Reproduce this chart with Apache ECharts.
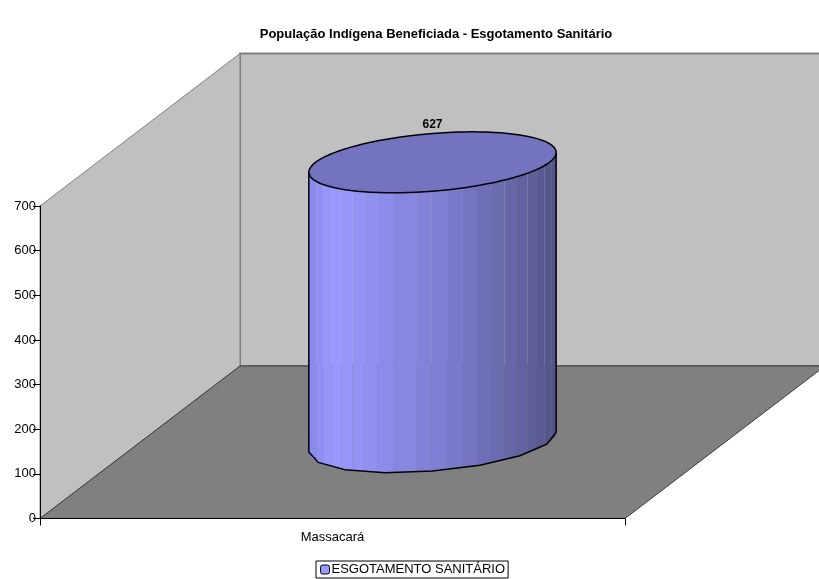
<!DOCTYPE html>
<html>
<head>
<meta charset="utf-8">
<title>População Indígena Beneficiada - Esgotamento Sanitário</title>
<script src="https://cdn.jsdelivr.net/npm/echarts@6/dist/echarts.min.js"></script>
<style>
  html, body { margin: 0; padding: 0; background: #fff; }
  #chart { width: 819px; height: 579px; }
</style>
</head>
<body>
<div id="chart"></div>
<script>
var categories = ['Massacará'];
var seriesName = 'ESGOTAMENTO SANITÁRIO';
var esgotamento = [627];
var yTicksMax = 700;
var yTicksStep = 100;

// deslocamento do "3D": fundo da caixa em relação ao plano da frente
var DEPTH_X = 200;
var DEPTH_Y = -152.5;
var BAR_RATIO = 0.4;      // largura da barra / largura da categoria
var BAR_DEPTH = 0.2;      // raio em profundidade, fração da caixa

// emendas entre as faixas do cilindro (fração da largura)
var seams = [0, 0.03, 0.058, 0.092, 0.132, 0.176, 0.226, 0.277, 0.34, 0.434, 0.495,
    0.559, 0.62, 0.68, 0.737, 0.791, 0.838, 0.884, 0.919, 0.953, 0.98, 1];
var shadeStops = [[0, [136, 136, 236]], [0.1, [153, 153, 255]], [0.5, [128, 128, 214]],
    [0.8, [104, 104, 170]], [1, [84, 84, 136]]];

function shadeAt(f) {
    for (var i = 1; i < shadeStops.length; i++) {
        var a = shadeStops[i - 1], b = shadeStops[i];
        if (f <= b[0]) {
            var k = (f - a[0]) / (b[0] - a[0]);
            return 'rgb(' + a[1].map(function(c, j) {
                return Math.round(c + (b[1][j] - c) * k);
            }).join(',') + ')';
        }
    }
    return 'rgb(84,84,136)';
}

function renderWalls(params, api) {
    var o = api.coord([0, 0]);
    var top = api.coord([0, yTicksMax])[1];
    var band = api.size([1, 0])[0];
    var l = o[0] - band / 2, r = o[0] + band / 2, y0 = o[1];
    var poly = function(points, fill, stroke, width) {
        return {
            type: 'polygon',
            shape: { points: points },
            style: { fill: fill, stroke: stroke, lineWidth: width }
        };
    };
    return {
        type: 'group',
        children: [
            poly([[l + DEPTH_X, y0 + DEPTH_Y], [r + DEPTH_X, y0 + DEPTH_Y],
                [r + DEPTH_X, top + DEPTH_Y], [l + DEPTH_X, top + DEPTH_Y]], '#c0c0c0', '#808080', 2),
            poly([[l, y0], [l + DEPTH_X, y0 + DEPTH_Y], [l + DEPTH_X, top + DEPTH_Y], [l, top]],
                '#c0c0c0', '#808080', 1),
            poly([[l, y0], [r, y0], [r + DEPTH_X, y0 + DEPTH_Y], [l + DEPTH_X, y0 + DEPTH_Y]],
                '#808080', '#3a3a3a', 1)
        ]
    };
}

function renderCylinder(params, api) {
    var base = api.coord([api.value(0), 0]);
    var head = api.coord([api.value(0), api.value(1)]);
    var band = api.size([1, 0])[0];
    var cx = base[0] + DEPTH_X / 2;
    var yBase = base[1] + DEPTH_Y / 2;
    var yHead = head[1] + DEPTH_Y / 2;

    var rx = band * BAR_RATIO / 2;
    var dx = DEPTH_X * BAR_DEPTH, dy = DEPTH_Y * BAR_DEPTH;
    var R = Math.sqrt(rx * rx + dx * dx);
    var phi = Math.atan2(dx, rx);

    // ponto da elipse pelo ângulo medido a partir da silhueta
    var rim = function(theta, yc) {
        return [cx + R * Math.cos(theta), yc + dy * Math.sin(theta + phi)];
    };
    var frontTheta = function(f) {
        return 2 * Math.PI - Math.acos(2 * f - 1);
    };
    var arc = function(f0, f1, yc) {
        var pts = [], t0 = frontTheta(f0), t1 = frontTheta(f1);
        for (var i = 0; i <= 8; i++) {
            pts.push(rim(t0 + (t1 - t0) * i / 8, yc));
        }
        return pts;
    };

    var children = [];
    for (var s = 1; s < seams.length; s++) {
        var f0 = seams[s - 1], f1 = seams[s];
        children.push({
            type: 'polygon',
            shape: { points: arc(f0, f1, yHead).concat(arc(f0, f1, yBase).reverse()) },
            style: { fill: shadeAt((f0 + f1) / 2) }
        });
    }

    // contorno: lados e arco inferior
    children.push({
        type: 'polyline',
        shape: { points: [rim(Math.PI, yHead)].concat(arc(0, 1, yBase), [rim(2 * Math.PI, yHead)]) },
        style: { fill: 'none', stroke: '#000', lineWidth: 1.5 }
    });

    var lid = [];
    for (var i = 0; i < 96; i++) {
        lid.push(rim(i / 96 * 2 * Math.PI, yHead));
    }
    children.push({
        type: 'polygon',
        shape: { points: lid },
        style: { fill: '#7373bf', stroke: '#000', lineWidth: 1.5 }
    });

    children.push({
        type: 'text',
        style: {
            text: String(api.value(1)),
            x: cx,
            y: yHead + dy * 1.25,
            align: 'center',
            verticalAlign: 'middle',
            font: 'bold 12px "Liberation Sans", Arial, sans-serif',
            fill: '#000'
        }
    });
    return { type: 'group', children: children };
}

var chart = echarts.init(document.getElementById('chart'), null, { renderer: 'canvas' });

chart.setOption({
    animation: false,
    textStyle: { fontFamily: '"Liberation Sans", Arial, sans-serif' },
    title: {
        text: 'População Indígena Beneficiada - Esgotamento Sanitário',
        left: 431,
        top: 23,
        textAlign: 'center',
        textStyle: { fontSize: 13, fontWeight: 'bold', color: '#000' }
    },
    legend: {
        data: [seriesName],
        left: 316,
        top: 561,
        padding: [2, 3, 2, 4],
        itemWidth: 9,
        itemHeight: 9,
        itemGap: 0,
        backgroundColor: '#fff',
        borderColor: '#000',
        borderWidth: 1,
        borderRadius: 0,
        textStyle: { fontSize: 13, color: '#000', padding: [0, 0, 0, -3] },
        itemStyle: { color: '#9999ff', borderColor: '#000', borderWidth: 1 }
    },
    grid: { left: 40, top: 206, width: 585, height: 312.5 },
    xAxis: {
        type: 'category',
        data: categories,
        z: 5,
        axisLine: { lineStyle: { color: '#000', width: 1 } },
        axisTick: { show: true, length: 7, lineStyle: { color: '#000' } },
        axisLabel: { fontSize: 13, color: '#000', margin: 12 },
        splitLine: { show: false }
    },
    yAxis: {
        type: 'value',
        min: 0,
        max: yTicksMax,
        interval: yTicksStep,
        z: 5,
        axisLine: { show: true, lineStyle: { color: '#000', width: 1 } },
        axisTick: { show: true, length: 7, lineStyle: { color: '#000' } },
        axisLabel: { fontSize: 13, color: '#000', margin: 4 },
        splitLine: { show: false }
    },
    series: [
        {
            type: 'custom',
            name: 'caixa',
            z: 1,
            silent: true,
            clip: false,
            renderItem: renderWalls,
            data: [[0, 0]],
            encode: { x: 0, y: 1 }
        },
        {
            type: 'custom',
            name: seriesName,
            z: 2,
            clip: false,
            itemStyle: { color: '#9999ff' },
            renderItem: renderCylinder,
            data: esgotamento.map(function(v, i) { return [i, v]; }),
            encode: { x: 0, y: 1 }
        }
    ]
});
</script>
</body>
</html>
